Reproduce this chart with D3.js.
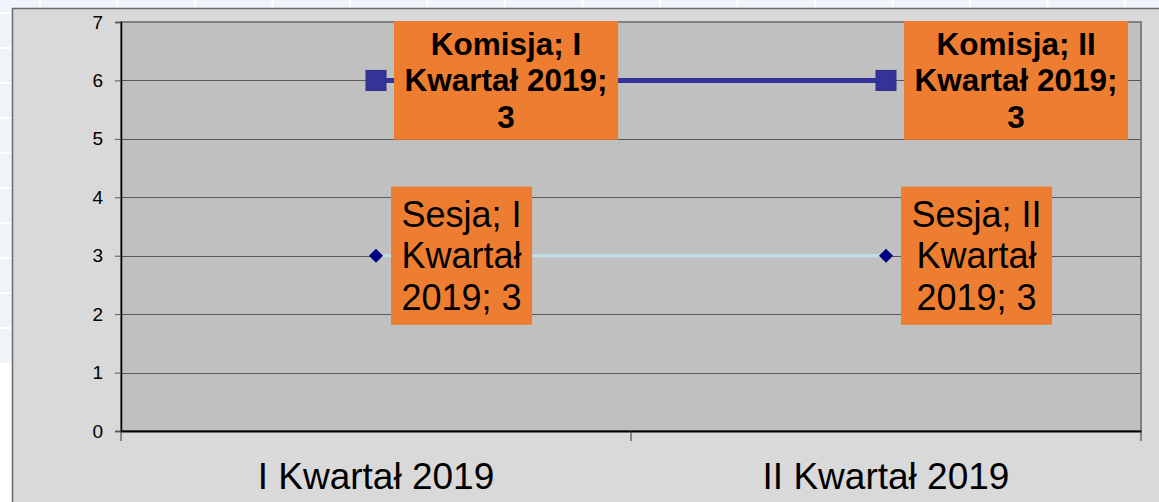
<!DOCTYPE html>
<html lang="pl">
<head>
    <meta http-equiv="Content-Type" content="text/html; charset=utf-8" />
    <title>Sesja / Komisja</title>
    <style type="text/css">
        body{ margin:0; padding:0; overflow:hidden; }
        text{ font-family: Arial, "Liberation Sans", sans-serif; }
    </style>
</head>
<body>

<script src="https://cdn.jsdelivr.net/npm/d3@7/dist/d3.min.js"></script>

<script>
    var categories = ["I Kwartał 2019", "II Kwartał 2019"];
    var sesja = [3, 3];
    var komisja = [3, 3];
    var yTicks = [0, 1, 2, 3, 4, 5, 6, 7];

    var width = 1159, height = 502;
    var svg = d3.select("body").append("svg")
        .attr("width", width)
        .attr("height", height);

    // tlo strony (jasna siatka)
    svg.append("rect").attr("width", width).attr("height", height).attr("fill", "#fff");
    svg.append("rect").attr("width", width).attr("height", 363).attr("fill", "#eef4f9");
    var bg = svg.append("g").attr("stroke", "#fff").attr("stroke-width", 2);
    d3.range(40, width, 77.5).forEach(function(x){
        bg.append("line").attr("x1", x).attr("x2", x).attr("y1", 0).attr("y2", 363);
    });
    d3.range(13, 363, 35).forEach(function(y){
        bg.append("line").attr("x1", 0).attr("x2", width).attr("y1", y).attr("y2", y);
    });

    // ramka wykresu
    svg.append("rect")
        .attr("x", 12.5).attr("y", 8.5)
        .attr("width", 1160).attr("height", 510)
        .attr("fill", "#d9d9d9")
        .attr("stroke", "#6a6a6a")
        .attr("stroke-width", 1.5);

    var plot = {left: 121, right: 1141, top: 22, bottom: 431};

    var x = d3.scaleBand()
        .domain(categories)
        .range([plot.left, plot.right]);
    var y = d3.scaleLinear()
        .domain([0, 7])
        .range([plot.bottom, plot.top]);

    svg.append("rect")
        .attr("x", plot.left).attr("y", plot.top)
        .attr("width", plot.right - plot.left)
        .attr("height", plot.bottom - plot.top)
        .attr("fill", "#c0c0c0")
        .attr("stroke", "#808080")
        .attr("stroke-width", 2);

    // linie siatki
    svg.append("g")
        .selectAll("line")
        .data(yTicks.slice(1, -1))
        .enter()
        .append("line")
        .attr("x1", plot.left).attr("x2", plot.right)
        .attr("y1", function(d){ return Math.round(y(d)) + 0.5; })
        .attr("y2", function(d){ return Math.round(y(d)) + 0.5; })
        .attr("stroke", "#585858")
        .attr("stroke-width", 1);

    // os Y
    var yAxis = svg.append("g")
        .attr("transform", "translate(" + plot.left + ",0)")
        .call(d3.axisLeft(y).tickValues(yTicks).tickFormat(d3.format("d")).tickSize(6).tickPadding(12));
    yAxis.select(".domain").attr("stroke", "#000").attr("stroke-width", 1.5);
    yAxis.selectAll(".tick line").attr("stroke", "#555");
    yAxis.selectAll(".tick text")
        .attr("font-size", 19)
        .attr("fill", "#000")
        .attr("font-family", "Arial, 'Liberation Sans', sans-serif");

    // os X
    var xAxis = svg.append("g")
        .attr("transform", "translate(0," + plot.bottom + ")")
        .call(d3.axisBottom(x).tickSize(0).tickPadding(32));
    xAxis.select(".domain").attr("stroke", "#000").attr("stroke-width", 2);
    xAxis.selectAll(".tick text")
        .attr("font-size", 37)
        .attr("fill", "#000")
        .attr("font-family", "Arial, 'Liberation Sans', sans-serif")
        .attr("dy", "0.71em");
    var xTickPos = categories.map(function(c){ return x(c); }).concat([plot.right]);
    svg.append("g")
        .selectAll("line")
        .data(xTickPos)
        .enter()
        .append("line")
        .attr("x1", function(d){ return d; }).attr("x2", function(d){ return d; })
        .attr("y1", plot.bottom).attr("y2", plot.bottom + 10)
        .attr("stroke", "#333")
        .attr("stroke-width", 1);

    var cx = function(i){ return x(categories[i]) + x.bandwidth() / 2; };
    var stacked = komisja.map(function(v, i){ return v + sesja[i]; });

    // serie (linia skumulowana)
    var line = d3.line()
        .x(function(d, i){ return cx(i); })
        .y(function(d){ return y(d); });

    svg.append("path")
        .datum(sesja)
        .attr("d", line)
        .attr("fill", "none")
        .attr("stroke", "#bfe0e8")
        .attr("stroke-width", 3);
    svg.append("path")
        .datum(stacked)
        .attr("d", line)
        .attr("fill", "none")
        .attr("stroke", "#333399")
        .attr("stroke-width", 5);

    svg.append("g")
        .selectAll("path")
        .data(sesja)
        .enter()
        .append("path")
        .attr("d", d3.symbol(d3.symbolSquare, 100)())
        .attr("transform", function(d, i){ return "translate(" + cx(i) + "," + y(d) + ") rotate(45)"; })
        .attr("fill", "#000080");
    svg.append("g")
        .selectAll("rect")
        .data(stacked)
        .enter()
        .append("rect")
        .attr("x", function(d, i){ return cx(i) - 10; })
        .attr("y", function(d){ return y(d) - 10; })
        .attr("width", 20).attr("height", 20)
        .attr("fill", "#333399")
        .attr("stroke", "#2e2e8a")
        .attr("stroke-width", 1);

    // etykiety danych
    function wrap(words, size, weight, maxW){
        var probe = svg.append("text").attr("font-size", size).attr("font-weight", weight);
        var lines = [], cur = "";
        words.forEach(function(w){
            var t = cur ? cur + " " + w : w;
            probe.text(t);
            if (cur && probe.node().getComputedTextLength() > maxW) { lines.push(cur); cur = w; }
            else cur = t;
        });
        lines.push(cur);
        var widths = lines.map(function(l){ probe.text(l); return probe.node().getComputedTextLength(); });
        probe.remove();
        return {lines: lines, w: d3.max(widths)};
    }

    function label(name, i, val, py, size, weight, maxW, offset, padV){
        var txt = name + "; " + categories[i] + "; " + val;
        var r = wrap(txt.split(" "), size, weight, maxW);
        var lh = size * 1.15;
        var bw = r.w + 21, bh = r.lines.length * lh + padV * 2;
        var left = cx(i) + offset, top = py - bh / 2;
        var g = svg.append("g");
        g.append("rect")
            .attr("x", left).attr("y", top)
            .attr("width", bw).attr("height", bh)
            .attr("fill", "#ed7d31");
        g.selectAll("text")
            .data(r.lines)
            .enter()
            .append("text")
            .attr("x", left + bw / 2)
            .attr("y", function(d, k){ return top + padV + size * 0.92 + k * lh; })
            .attr("text-anchor", "middle")
            .attr("font-size", size)
            .attr("font-weight", weight)
            .attr("fill", "#000")
            .text(function(d){ return d; });
    }

    sesja.forEach(function(v, i){ label("Sesja", i, v, y(v), 36, "normal", 136, 15, 7); });
    komisja.forEach(function(v, i){ label("Komisja", i, v, y(stacked[i]), 31.5, "bold", 210, 18, 5); });
</script>

</body>
</html>
